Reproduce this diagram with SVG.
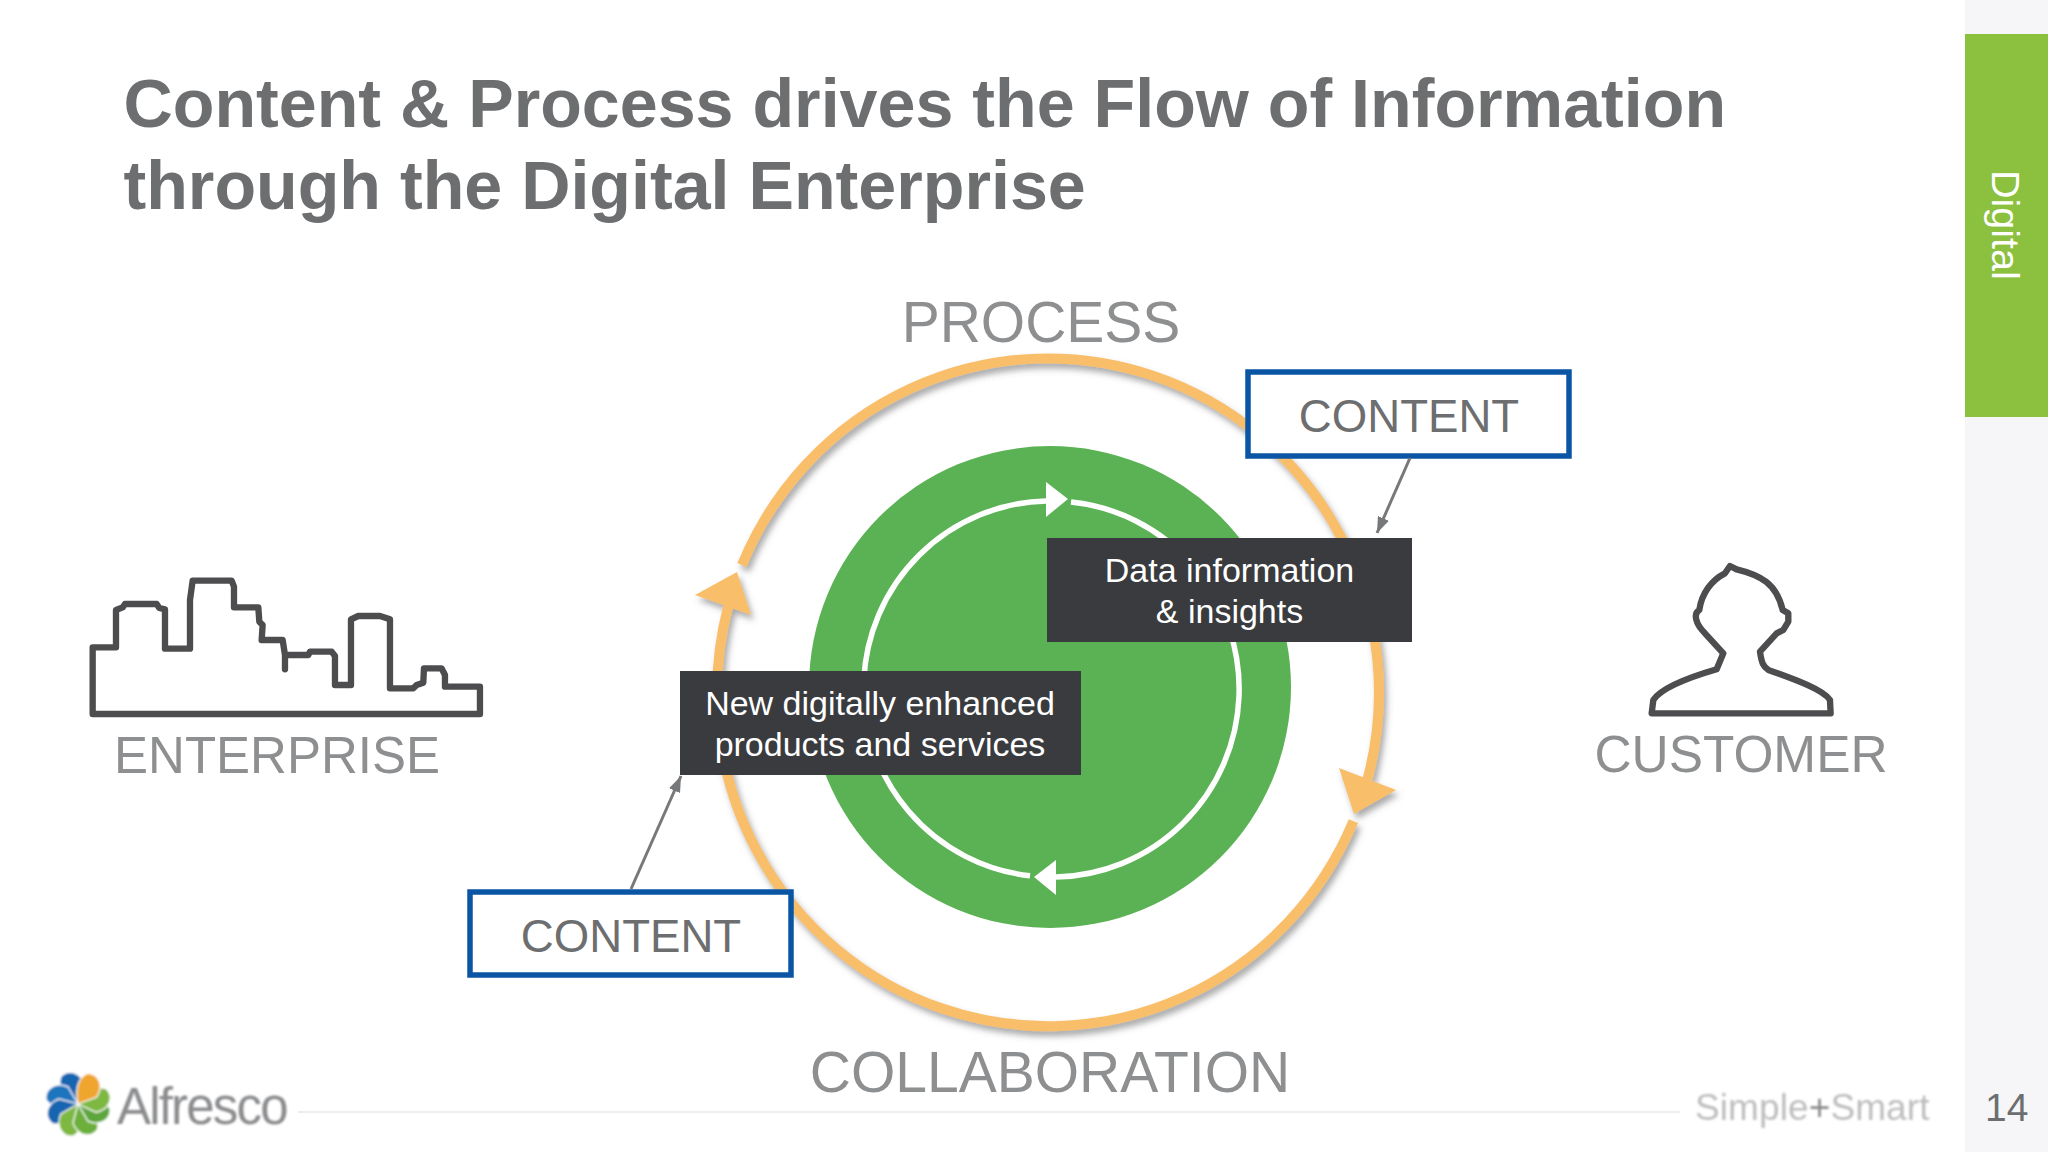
<svg xmlns="http://www.w3.org/2000/svg" width="2048" height="1152" viewBox="0 0 2048 1152">
<style>
text{font-family:"Liberation Sans",Arial,sans-serif}
.title{font-size:68.2px;font-weight:700;fill:#6D6E70}
.lbl{font-size:57px;fill:#8E8F91;text-anchor:middle}
.cnt{font-size:45.6px;fill:#6D6E70;text-anchor:middle}
.dark{font-size:34px;fill:#fff;text-anchor:middle}
.box{fill:#3A3B3E}
.blue{fill:#fff;stroke:#0B56A4;stroke-width:5.5}
.orange{fill:none;stroke:#F9BE6B;stroke-width:10}
.white{fill:none;stroke:#fff;stroke-width:5.5}
.thin{fill:none;stroke:#77787A;stroke-width:3;marker-end:url(#tip)}
.icon{fill:none;stroke:#4D4D4F;stroke-width:19;stroke-linejoin:round;stroke-linecap:round}
</style>
<defs>
<filter id="sh" x="-10%" y="-10%" width="120%" height="120%"><feDropShadow dx="3" dy="5" stdDeviation="3" flood-color="#555" flood-opacity=".5"/></filter>
<filter id="soft" x="-20%" y="-20%" width="140%" height="140%"><feGaussianBlur stdDeviation="0.9"/></filter>
<marker id="tip" viewBox="0 0 16 12" markerWidth="16" markerHeight="12" refX="16" refY="6" orient="auto" markerUnits="userSpaceOnUse"><path d="M0 0L16 6L0 12z" fill="#77787A"/></marker>
<path id="petal" d="M0 0C-8-10-12-24-4-32C6-36 16-28 14-14Z"/>
</defs>
<rect width="2048" height="1152" fill="#fff"/>
<rect x="1965" width="83" height="1152" fill="#F6F6F8"/>
<g id="tab"><rect x="1965" y="34" width="83" height="383" fill="#8CC03F"/><text transform="translate(1992 170) rotate(90)" font-size="39.500" fill="#fff">Digital</text></g>
<g id="title"><text class="title" x="123.500" y="127">Content &amp; Process drives the Flow of Information</text><text class="title" x="123.500" y="209">through the Digital Enterprise</text></g>
<g id="hub"><circle cx="1050" cy="687" r="241" fill="#5BB254"/></g>
<g id="connectors">
<g filter="url(#sh)">
<path class="orange" d="M742 565A331 334 0 0 1 1367.600 779.200"/>
<path class="orange" d="M1353.400 821.200A331 334 0 0 1 728.200 606.400"/>
<polygon points="1339,768 1396,790 1354,814" fill="#F9BE6B"/>
<polygon points="737,572 695,595 751,615" fill="#F9BE6B"/>
</g>
<path class="white" d="M1030 875.800A187 188 0 0 1 1046 501"/>
<path class="white" d="M1071 502A187 188 0 0 1 1056 877"/>
<polygon points="1046,482 1068,499 1046,517" fill="#fff"/>
<polygon points="1034,877 1056,860 1056,895" fill="#fff"/>
</g>
<g id="data-box"><rect class="box" x="1047" y="538" width="365" height="104"/><text class="dark" x="1229.500" y="582">Data information</text><text class="dark" x="1229.500" y="623">&amp; insights</text></g>
<g id="products-box"><rect class="box" x="680" y="671" width="401" height="104"/><text class="dark" x="880" y="715">New digitally enhanced</text><text class="dark" x="880" y="756">products and services</text></g>
<g id="content-top"><rect class="blue" x="1248" y="372" width="321" height="84"/><text class="cnt" x="1409" y="432">CONTENT</text></g>
<g id="content-bottom"><rect class="blue" x="470" y="892" width="321" height="83"/><text class="cnt" x="631" y="952">CONTENT</text></g>
<g id="pointers"><path class="thin" d="M1410 458L1377 533"/><path class="thin" d="M631 889L681 776"/></g>
<g id="process"><text class="lbl" x="1041" y="342">PROCESS</text></g>
<g id="collaboration"><text class="lbl" x="1050" y="1092">COLLABORATION</text></g>
<g id="enterprise"><path class="icon" transform="translate(70 550) scale(.3333)" d="M68 492V292H138V180L158 172L165 162H260L268 174L285 178V296H360V150L368 92H485L492 110V172H565L568 215L578 225L575 270H638L645 315V358V315H715L720 305H785L795 318V405H843V208L865 198H930L960 208V415H1030L1040 405L1060 398L1062 355H1115L1125 375V410H1230V492Z"/><text class="lbl" x="277" y="773" style="font-size:51px">ENTERPRISE</text></g>
<g id="customer"><path class="icon" transform="translate(1580 550) scale(.3333)" d="M450 48L470 58C540 75 590 100 608 180L625 190V215L610 240L590 250L540 305C545 340 550 350 565 360C650 390 730 420 750 450L752 490H215L220 450C240 420 300 390 410 358L430 310L375 250C345 220 340 190 358 180C365 130 395 90 435 70Z"/><text class="lbl" x="1741" y="772" style="font-size:51.400px">CUSTOMER</text></g>
<g id="footer"><path d="M298 1112H1680" stroke="#EEEEEE" stroke-width="2"/>
<g id="logo" filter="url(#soft)">
<g transform="translate(78 1104)" stroke="#fff" stroke-width="1.2">
<use href="#petal" fill="#1565B0" transform="rotate(-25)"/>
<use href="#petal" fill="#1F74BD" transform="rotate(-75)"/>
<use href="#petal" fill="#1565B0" transform="rotate(-120)"/>
<use href="#petal" fill="#7DB83F" transform="rotate(-165)"/>
<use href="#petal" fill="#6CB03A" transform="rotate(150)"/>
<use href="#petal" fill="#5DA63A" transform="rotate(105)"/>
<use href="#petal" fill="#7DB83F" transform="rotate(70)"/>
<use href="#petal" fill="#F0A62E" transform="rotate(25)"/>
</g></g>
<text x="117" y="1124" font-size="51" fill="#8A8B8D" letter-spacing="-1.8" filter="url(#soft)">Alfresco</text>
<text x="1695" y="1120" font-size="37" fill="#BDBDBD" letter-spacing="0.1" filter="url(#soft)">Simple<tspan fill="#8A8B8D">+</tspan>Smart</text>
<text x="1985" y="1121" font-size="39" fill="#6D6E70">14</text></g>
</svg>
